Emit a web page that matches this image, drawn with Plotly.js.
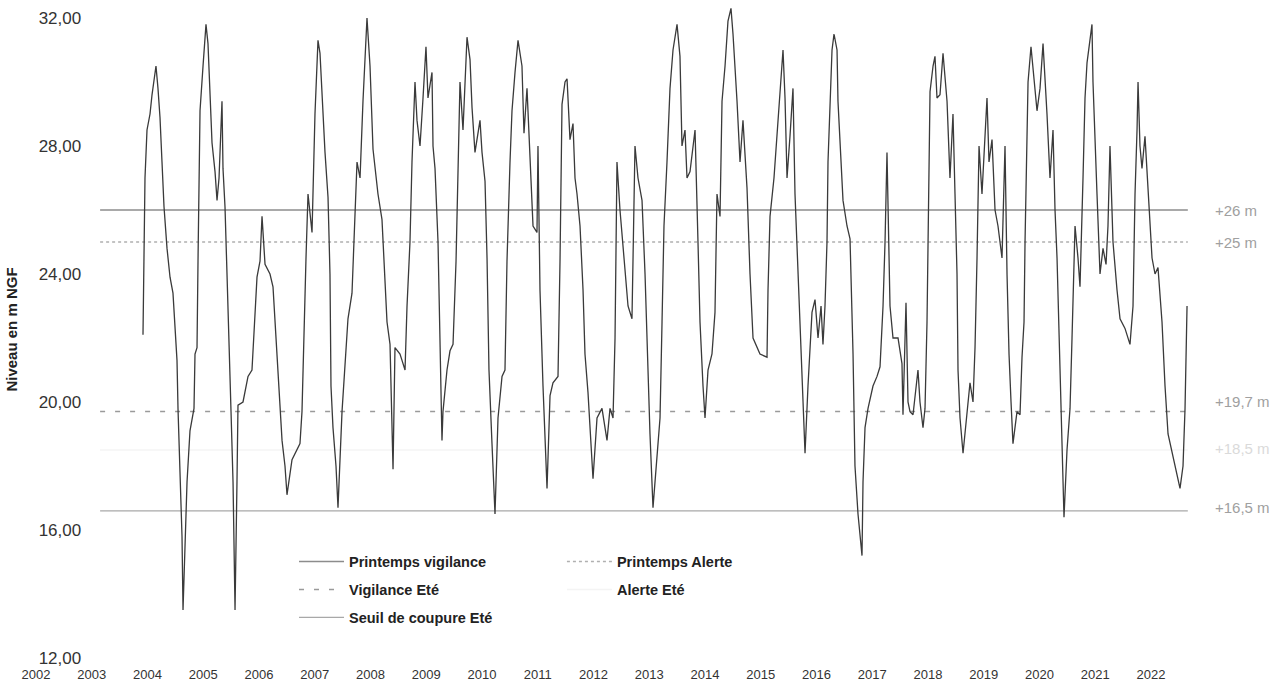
<!DOCTYPE html>
<html><head><meta charset="utf-8">
<script src="https://cdn.plot.ly/plotly-3.0.1.min.js"></script>
<style>html,body{margin:0;padding:0;background:#fff}#chart{width:1287px;height:691px}</style>
</head><body><div id="chart"></div>
<script>
// Dates as decimal years, levels in m NGF
const dates = [
2003.919,2003.955,2003.991,2004.045,2004.081,2004.152,2004.188,2004.224,2004.260,2004.296,2004.350,2004.404,2004.457,2004.529,2004.547,2004.583,2004.619,2004.637,2004.673,2004.709,2004.762,2004.834,2004.852,2004.888,2004.906,2004.924,2004.942,2004.996,
2005.049,2005.085,2005.121,2005.157,2005.211,2005.247,2005.283,2005.336,2005.354,2005.390,2005.426,2005.462,2005.498,2005.534,2005.570,2005.605,2005.623,2005.713,2005.803,2005.874,2005.928,2005.964,
2006.018,2006.054,2006.108,2006.197,2006.251,2006.323,2006.377,2006.413,2006.466,2006.502,2006.592,2006.682,2006.735,2006.771,2006.807,2006.843,2006.879,2006.951,
2007.004,2007.058,2007.094,2007.130,2007.184,2007.238,2007.273,2007.291,2007.327,2007.381,2007.417,2007.489,2007.543,2007.596,2007.668,2007.704,2007.758,2007.812,2007.865,2007.937,2007.991,
2008.045,2008.134,2008.206,2008.260,2008.296,2008.350,2008.404,2008.439,2008.529,2008.565,2008.619,2008.655,2008.708,2008.744,2008.798,2008.834,2008.888,2008.942,2008.995,
2009.031,2009.103,2009.121,2009.157,2009.211,2009.247,2009.282,2009.300,2009.372,2009.426,2009.480,2009.534,2009.569,2009.605,2009.659,2009.731,2009.785,2009.821,2009.874,2009.964,
2010.000,2010.054,2010.090,2010.125,2010.179,2010.233,2010.287,2010.359,2010.412,2010.448,2010.502,2010.538,2010.592,2010.646,2010.717,2010.753,2010.807,2010.861,2010.915,2010.986,
2011.004,2011.040,2011.094,2011.166,2011.220,2011.273,2011.363,2011.399,2011.435,2011.489,2011.525,2011.542,2011.578,2011.632,2011.668,2011.704,2011.758,2011.812,2011.847,2011.901,2011.991,
2012.063,2012.152,2012.242,2012.296,2012.350,2012.386,2012.421,2012.475,2012.547,2012.619,2012.690,2012.744,2012.798,2012.870,2012.924,2012.977,
2013.013,2013.067,2013.139,2013.193,2013.229,2013.264,2013.318,2013.372,2013.426,2013.498,2013.551,2013.587,2013.641,2013.677,2013.731,2013.821,2013.874,2013.910,2013.964,
2014.000,2014.054,2014.125,2014.179,2014.215,2014.269,2014.305,2014.359,2014.412,2014.466,2014.502,2014.574,2014.628,2014.681,2014.753,2014.807,2014.861,2014.986,
2015.112,2015.130,2015.166,2015.237,2015.291,2015.345,2015.399,2015.435,2015.471,2015.524,2015.578,2015.614,2015.668,2015.722,2015.758,2015.794,2015.847,2015.919,2015.973,
2016.027,2016.081,2016.116,2016.152,2016.188,2016.206,2016.242,2016.278,2016.314,2016.368,2016.385,2016.421,2016.475,2016.547,2016.601,2016.655,2016.690,2016.744,2016.816,2016.834,2016.870,2016.924,
2017.013,2017.085,2017.139,2017.193,2017.229,2017.264,2017.300,2017.318,2017.372,2017.462,2017.533,2017.551,2017.605,2017.641,2017.677,2017.731,2017.820,2017.856,2017.910,2017.946,2017.982,
2018.000,2018.036,2018.090,2018.125,2018.161,2018.215,2018.269,2018.341,2018.394,2018.448,2018.484,2018.520,2018.538,2018.574,2018.628,2018.699,2018.753,2018.807,2018.843,2018.879,2018.915,2018.968,
2019.022,2019.058,2019.094,2019.148,2019.202,2019.255,2019.327,2019.381,2019.417,2019.453,2019.489,2019.524,2019.596,2019.650,2019.686,2019.722,2019.740,2019.776,2019.794,2019.847,2019.883,2019.955,
2020.009,2020.063,2020.134,2020.188,2020.242,2020.278,2020.314,2020.367,2020.403,2020.439,2020.493,2020.547,2020.583,2020.637,2020.690,2020.726,2020.780,2020.816,2020.852,2020.941,2020.959,2020.995,
2021.031,2021.085,2021.139,2021.193,2021.228,2021.264,2021.318,2021.390,2021.444,2021.533,2021.623,2021.677,2021.713,2021.749,2021.767,2021.802,2021.838,2021.892,2021.946,
2022.018,2022.072,2022.125,2022.197,2022.251,2022.305,2022.520,2022.574,2022.610,2022.646
];
const levels = [
22.1,27.0,28.5,29.0,29.6,30.5,29.8,28.9,27.5,26.1,24.8,23.9,23.4,21.3,19.8,17.8,15.8,13.5,15.5,17.5,19.1,19.8,21.5,21.7,24.4,26.9,29.1,30.5,
31.8,31.2,29.5,28.1,27.2,26.3,27.0,29.4,27.3,26.1,24.0,21.5,19.7,17.5,13.5,17.5,19.9,20.0,20.8,21.0,22.8,23.9,
24.4,25.8,24.3,24.0,23.6,21.3,19.8,18.8,18.0,17.1,18.2,18.5,18.7,19.7,22.5,24.5,26.5,25.3,
29.0,31.3,30.9,29.5,27.8,26.4,24.0,20.5,19.2,18.0,16.7,19.7,21.3,22.6,23.4,25.0,27.5,27.0,29.4,32.0,30.5,
27.9,26.5,25.7,24.0,22.5,21.8,17.9,21.7,21.5,21.3,21.0,23.0,25.0,27.5,30.0,28.8,28.0,29.5,31.1,
29.5,30.3,28.0,27.3,25.0,21.5,18.8,19.7,21.0,21.6,21.8,24.4,27.0,30.0,28.5,31.4,30.7,29.2,27.8,28.8,
27.8,26.9,24.5,21.0,18.7,16.5,19.5,20.8,21.0,24.4,27.5,29.1,30.3,31.3,30.5,28.4,29.8,27.7,25.5,25.3,
28.0,23.5,20.5,17.3,20.2,20.6,20.8,24.4,29.3,30.0,30.1,29.5,28.2,28.7,27.0,26.5,25.5,23.5,21.5,20.3,17.6,
19.5,19.8,18.8,19.8,19.5,22.0,27.5,26.0,24.5,23.0,22.6,28.0,27.0,26.3,24.0,20.5,
19.0,16.7,18.4,19.5,22.5,25.5,27.5,29.8,31.0,31.8,30.8,28.0,28.5,27.0,27.2,28.5,25.0,22.5,20.5,
19.5,21.0,21.5,22.8,26.5,25.8,29.4,30.5,31.9,32.3,31.5,29.4,27.5,28.8,26.7,24.0,22.0,21.5,
21.4,23.5,25.8,27.0,28.4,29.6,31.0,29.5,27.0,28.3,29.8,26.5,24.0,21.5,20.0,18.4,20.5,22.8,23.2,
22.0,23.0,21.8,23.0,25.0,27.5,29.4,31.0,31.5,31.0,29.4,28.0,26.3,25.5,25.1,21.5,18.0,16.5,15.2,17.5,19.2,19.8,
20.5,20.8,21.1,23.0,25.0,27.8,24.5,23.0,22.0,22.0,21.2,19.6,23.1,20.0,19.7,19.6,21.0,20.0,19.2,19.8,22.5,
25.5,29.7,30.5,30.8,29.5,29.6,30.9,29.4,27.0,29.0,26.5,24.0,21.0,19.5,18.4,19.8,20.6,20.0,21.7,24.5,28.0,26.5,
28.4,29.5,27.5,28.2,26.0,25.5,24.5,28.0,24.0,21.5,20.0,18.7,19.7,19.6,21.4,22.5,25.0,28.0,30.0,31.1,30.4,29.1,
29.8,31.2,29.0,27.0,28.5,26.0,24.5,21.0,18.5,16.4,18.5,19.8,22.0,25.5,24.5,23.6,27.0,29.5,30.6,31.8,30.0,28.0,
26.5,24.0,24.8,24.3,25.5,28.0,25.0,23.5,22.6,22.3,21.8,23.0,26.5,28.5,30.0,28.0,27.3,28.3,26.8,
24.5,24.0,24.2,22.5,20.5,19.0,17.3,18.0,19.8,23.0
];
const yearTicks = [2002,2003,2004,2005,2006,2007,2008,2009,2010,2011,2012,2013,2014,2015,2016,2017,2018,2019,2020,2021,2022];
const yTickValues = [12,16,20,24,28,32];
const yTickLabels = ["12,00","16,00","20,00","24,00","28,00","32,00"];
const thresholdNames = ["Printemps vigilance","Printemps Alerte","Vigilance Eté","Alerte Eté","Seuil de coupure Eté"];
const thresholdValues = [26,25,19.7,18.5,16.6];
const thresholdLabels = ["+26 m","+25 m","+19,7 m","+18,5 m","+16,5 m"];
const thresholdSpan = [2003.15,2022.66];

// styles (not data)
const thrStyles = [
  {color:"#8c8c8c", width:1.5, dash:"solid", legend:"legend", label:"#a0a0a0", shift:0},
  {color:"#b0b0b0", width:1.5, dash:"dot", legend:"legend2", label:"#a0a0a0", shift:0},
  {color:"#9a9a9a", width:1.5, dash:"5px,10px", legend:"legend", label:"#a0a0a0", shift:10},
  {color:"#f4f4f4", width:1.5, dash:"solid", legend:"legend2", label:"#dadada", shift:2},
  {color:"#a8a8a8", width:1.2, dash:"solid", legend:"legend", label:"#a0a0a0", shift:3}
];

const traces = thresholdNames.map((n,i)=>({
  x: thresholdSpan, y: [thresholdValues[i], thresholdValues[i]],
  type:"scatter", mode:"lines", name:n,
  line:{color:thrStyles[i].color, width:thrStyles[i].width, dash:thrStyles[i].dash},
  legend: thrStyles[i].legend, legendgroup:"g"+i, hoverinfo:"skip"
}));
traces.push({x:dates, y:levels, type:"scatter", mode:"lines", name:"Niveau",
  line:{color:"#3a3a3a", width:1.3}, showlegend:false, hoverinfo:"skip"});

const annotations = thresholdLabels.map((t,i)=>({
  xref:"paper", yref:"y", x:1.018, y:thresholdValues[i], yshift:thrStyles[i].shift,
  text:t, showarrow:false, xanchor:"left", yanchor:"middle",
  font:{family:"Liberation Sans, Arial, sans-serif", size:15, color:thrStyles[i].label}
}));

const legendCommon = {orientation:"v", yanchor:"top", xanchor:"left", bgcolor:"rgba(0,0,0,0)",
  traceorder:"grouped", tracegroupgap:6, itemwidth:45,
  font:{family:"Liberation Sans, Arial, sans-serif", size:14.5, color:"#222", weight:"bold"}};

const layout = {
  width:1287, height:691,
  margin:{l:20, r:95, t:0, b:32},
  paper_bgcolor:"#fff", plot_bgcolor:"#fff",
  font:{family:"Liberation Sans, Arial, sans-serif", color:"#333"},
  xaxis:{range:[2001.713,2022.735], tickvals:yearTicks, ticktext:yearTicks.map(String),
    showgrid:false, zeroline:false, showline:false, ticks:"", ticklabelstandoff:6,
    tickfont:{size:13, color:"#333"}},
  yaxis:{range:[11.96875,32.5625], tickvals:yTickValues, ticktext:yTickLabels,
    anchor:"free", position:0.0522, showgrid:false, zeroline:false, showline:false, ticks:"",
    tickfont:{size:17, color:"#333"},
    title:{text:"Niveau en m NGF", standoff:16, font:{size:15, color:"#222", weight:"bold"}}},
  legend:Object.assign({x:0.2338, y:0.172}, legendCommon),
  legend2:Object.assign({x:0.4624, y:0.172}, legendCommon),
  annotations: annotations,
  showlegend:true
};
Plotly.newPlot("chart", traces, layout, {staticPlot:true, displayModeBar:false});
</script></body></html>
